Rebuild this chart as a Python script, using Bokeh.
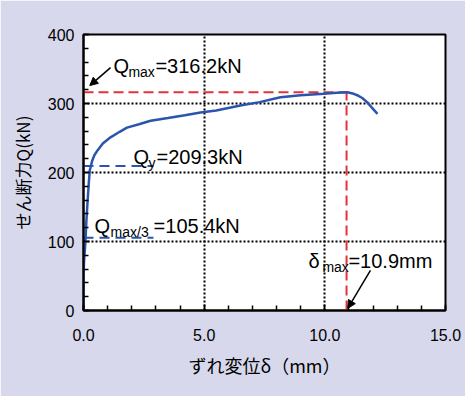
from bokeh.plotting import figure
from bokeh.models import Label, Arrow, NormalHead, PrintfTickFormatter, FixedTicker, Range1d
from bokeh.embed import file_html
from bokeh.resources import INLINE

# ---- data ----
disp_mm = [0, 0.0, 0.02, 0.08, 0.12, 0.17, 0.22, 0.26, 0.36, 0.45, 0.58, 0.8, 1.12, 1.5, 1.8,
           2.3, 2.78, 3.5, 4.2, 4.85, 5.5, 6.5, 7.3, 8.16, 9.0, 9.95, 10.5, 10.93,
           11.2, 11.34, 11.55, 11.75, 11.95, 12.18]
shear_kN = [0, 48, 70, 99, 130, 159, 185, 203, 217, 225, 232, 242, 251, 259, 265,
            270, 275, 279, 283, 287, 290, 297, 302, 309, 312, 314, 315.5, 316.2,
            314, 312, 308, 302, 294, 285]

q_max = 316.2
d_max = 10.9
q_y = 209.3
q_max3 = 105.4
ref_len = 2.9  # length of blue reference dashes (mm)

x_ticks = [0, 5, 10, 15]
y_ticks = [0, 100, 200, 300, 400]

BG = "#d8d8ec"
BLUE = "#2b55ad"
RED = "#e53238"

p = figure(width=465, height=396, output_backend="svg", toolbar_location=None,
           x_range=Range1d(0, 15), y_range=Range1d(0, 400),
           min_border_left=83, min_border_right=20, min_border_top=34, min_border_bottom=86)
p.background_fill_color = "white"
p.border_fill_color = BG
p.outline_line_color = "black"
p.outline_line_width = 2

# grids
for g in (p.xgrid, p.ygrid):
    g.grid_line_color = "black"
    g.grid_line_dash = "2 2"
    g.grid_line_width = 2
p.xgrid.ticker = FixedTicker(ticks=[5, 10])
p.ygrid.ticker = FixedTicker(ticks=[100, 200, 300])

# axes
p.xaxis.ticker = FixedTicker(ticks=x_ticks, minor_ticks=list(range(0, 16)))
p.yaxis.ticker = FixedTicker(ticks=y_ticks, minor_ticks=list(range(0, 401, 20)))
p.xaxis.formatter = PrintfTickFormatter(format="%.1f")
for ax in (p.xaxis[0], p.yaxis[0]):
    ax.axis_line_width = 2
    ax.axis_line_color = "black"
    ax.major_tick_in = 6
    ax.major_tick_out = 0
    ax.minor_tick_in = 5
    ax.minor_tick_out = 0
    ax.major_tick_line_width = 1.5
    ax.minor_tick_line_width = 1.5
    ax.major_label_text_font = "Liberation Sans"
    ax.major_label_text_font_size = "16px"
    ax.major_label_text_color = "black"
    ax.axis_label_text_font = "Noto Sans CJK JP"
    ax.axis_label_text_font_style = "normal"
    ax.axis_label_text_color = "black"

p.xaxis.axis_label = "ずれ変位δ（mm）"
p.yaxis.axis_label = "せん断力Q(kN)"
p.xaxis.axis_label_text_font_size = "18px"
p.yaxis.axis_label_text_font_size = "17px"
p.xaxis.major_label_standoff = 18
p.xaxis.axis_label_standoff = 8
p.yaxis.major_label_standoff = 9
p.yaxis.axis_label_standoff = 10

# reference lines
p.line([0, d_max], [q_max, q_max], line_color=RED, line_width=2, line_dash="10 5")
p.line([d_max, d_max], [0, q_max], line_color=RED, line_width=2, line_dash="10 5")
p.line([0, ref_len], [q_y, q_y], line_color=BLUE, line_width=2, line_dash="10 6")
p.line([0, ref_len], [q_max3, q_max3], line_color=BLUE, line_width=2, line_dash="10 6")

# curve
p.line(disp_mm, shear_kN, line_color=BLUE, line_width=2.5)

# annotations with subscripts
def sub_label(x, y, main, sub, rest, sub_dx, rest_dx):
    common = dict(text_font="Liberation Sans", text_color="black", text_baseline="alphabetic")
    p.add_layout(Label(x=x, y=y, text=main, text_font_size="20px", **common))
    p.add_layout(Label(x=x, y=y, x_offset=sub_dx, y_offset=-6, text=sub, text_font_size="14px", **common))
    p.add_layout(Label(x=x, y=y, x_offset=rest_dx, text=rest, text_font_size="20px", **common))

sub_label(1.24, 355, "Q", "max", "=%.1fkN" % q_max, 15, 42)
sub_label(2.07, 222, "Q", "y", "=%.1fkN" % q_y, 15, 23)
sub_label(0.46, 123, "Q", "max/3", "=%.1fkN" % q_max3, 16, 59)
sub_label(9.32, 72, "δ", "max", "=%.1fmm" % d_max, 14, 40)

p.add_layout(Arrow(end=NormalHead(size=8, fill_color="black", line_color="black"),
                   x_start=1.12, y_start=352, x_end=0.26, y_end=326,
                   line_color="black", line_width=1.5))
p.add_layout(Arrow(end=NormalHead(size=8, fill_color="black", line_color="black"),
                   x_start=11.89, y_start=58, x_end=10.95, y_end=3,
                   line_color="black", line_width=1.5))

open("out.html", "w").write(file_html(p, INLINE))
